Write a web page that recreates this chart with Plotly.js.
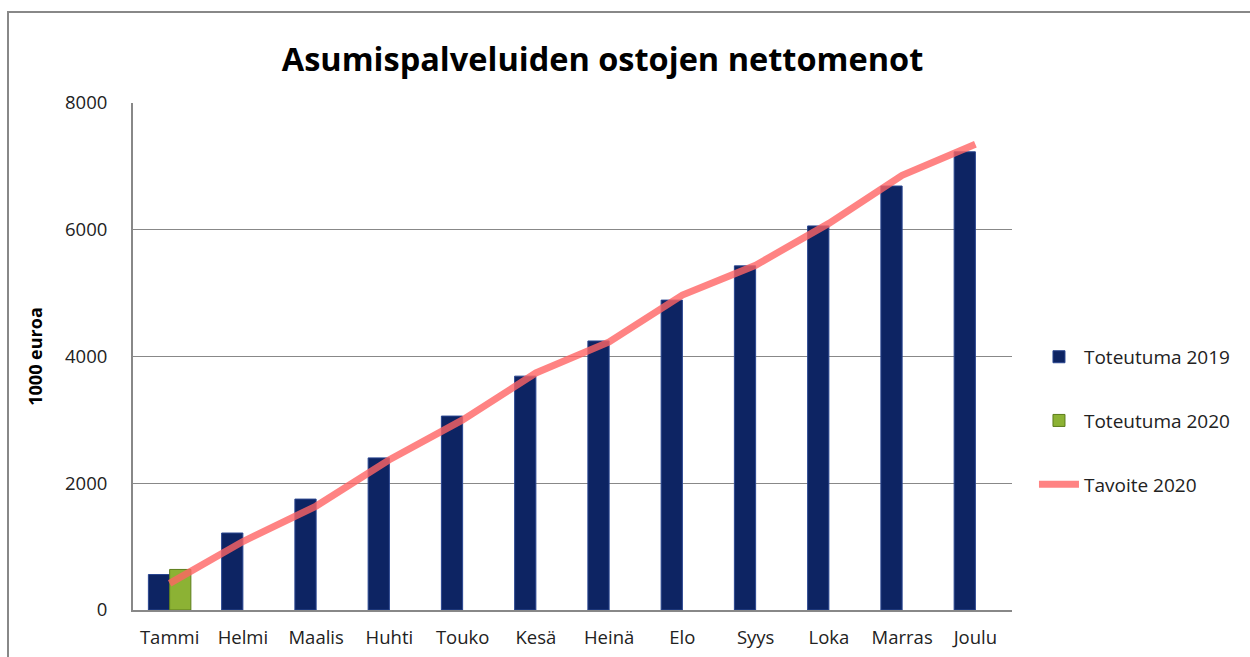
<!DOCTYPE html>
<html>
<head>
<meta charset="utf-8">
<script src="https://cdn.plot.ly/plotly-3.0.1.min.js"></script>
<style>
  html, body { margin: 0; padding: 0; background: #fff; }
  #chart { width: 1250px; height: 657px; }
</style>
</head>
<body>
<div id="chart"></div>
<script>
// months and monthly cumulative values (1000 euroa)
var months = ['Tammi', 'Helmi', 'Maalis', 'Huhti', 'Touko', 'Kesä', 'Heinä', 'Elo', 'Syys', 'Loka', 'Marras', 'Joulu'];
var toteutuma2019 = [560, 1215, 1750, 2400, 3060, 3690, 4245, 4890, 5430, 6060, 6690, 7230];
var toteutuma2020 = [640, null, null, null, null, null, null, null, null, null, null, null];
var tavoite2020 = [420, 1080, 1640, 2370, 3000, 3740, 4230, 4970, 5440, 6100, 6860, 7350];

var font = '"Open Sans", "Liberation Sans", sans-serif';

var trace2019 = {
  x: months,
  y: toteutuma2019,
  name: 'Toteutuma 2019',
  legendgroup: 'a',
  type: 'bar',
  marker: { color: '#0d2463', line: { color: '#2a4690', width: 1 } }
};

var trace2020 = {
  x: months,
  y: toteutuma2020,
  name: 'Toteutuma 2020',
  legendgroup: 'b',
  type: 'bar',
  marker: { color: '#8cb234', line: { color: '#5d7d1c', width: 1 } }
};

var traceTavoite = {
  x: months,
  y: tavoite2020,
  name: 'Tavoite 2020',
  legendgroup: 'c',
  type: 'scatter',
  mode: 'lines',
  line: { color: 'rgba(255,100,100,0.8)', width: 7 }
};

var data = [trace2019, trace2020, traceTavoite];

var layout = {
  width: 1250,
  height: 657,
  margin: { l: 133, r: 238, t: 103, b: 47 },
  paper_bgcolor: '#fff',
  plot_bgcolor: '#fff',
  font: { family: font, size: 18, color: '#222' },
  title: {
    text: '<b>Asumispalveluiden ostojen nettomenot</b>',
    font: { size: 32.5, color: '#000' },
    x: 0.482, xanchor: 'center',
    y: 0.91, yanchor: 'middle'
  },
  barmode: 'group',
  bargap: 0.42,
  bargroupgap: 0,
  showlegend: true,
  legend: {
    x: 1.025, xanchor: 'left',
    y: 0.373, yanchor: 'middle',
    font: { size: 19 },
    tracegroupgap: 36,
    itemwidth: 40
  },
  xaxis: {
    showline: true, linecolor: '#888', linewidth: 2,
    ticks: '', showgrid: false,
    ticklabelstandoff: 10,
    tickfont: { size: 18.5 }
  },
  yaxis: {
    range: [0, 8000],
    dtick: 2000,
    showline: true, linecolor: '#888', linewidth: 2,
    gridcolor: '#888', gridwidth: 1,
    ticks: '', ticklen: 0,
    ticklabelstandoff: 20,
    tickfont: { size: 18.5 },
    tickformat: 'd',
    title: { text: '<b>1000 euroa</b>', font: { size: 18, color: '#000' }, standoff: 18 }
  },
  shapes: [{
    type: 'rect', xref: 'paper', yref: 'paper',
    x0: -0.1422, x1: 1.28, y0: -0.1, y1: 1.1795,
    line: { color: '#888', width: 2 }, layer: 'below'
  }]
};

Plotly.newPlot('chart', data, layout, { displayModeBar: false });
</script>
</body>
</html>
